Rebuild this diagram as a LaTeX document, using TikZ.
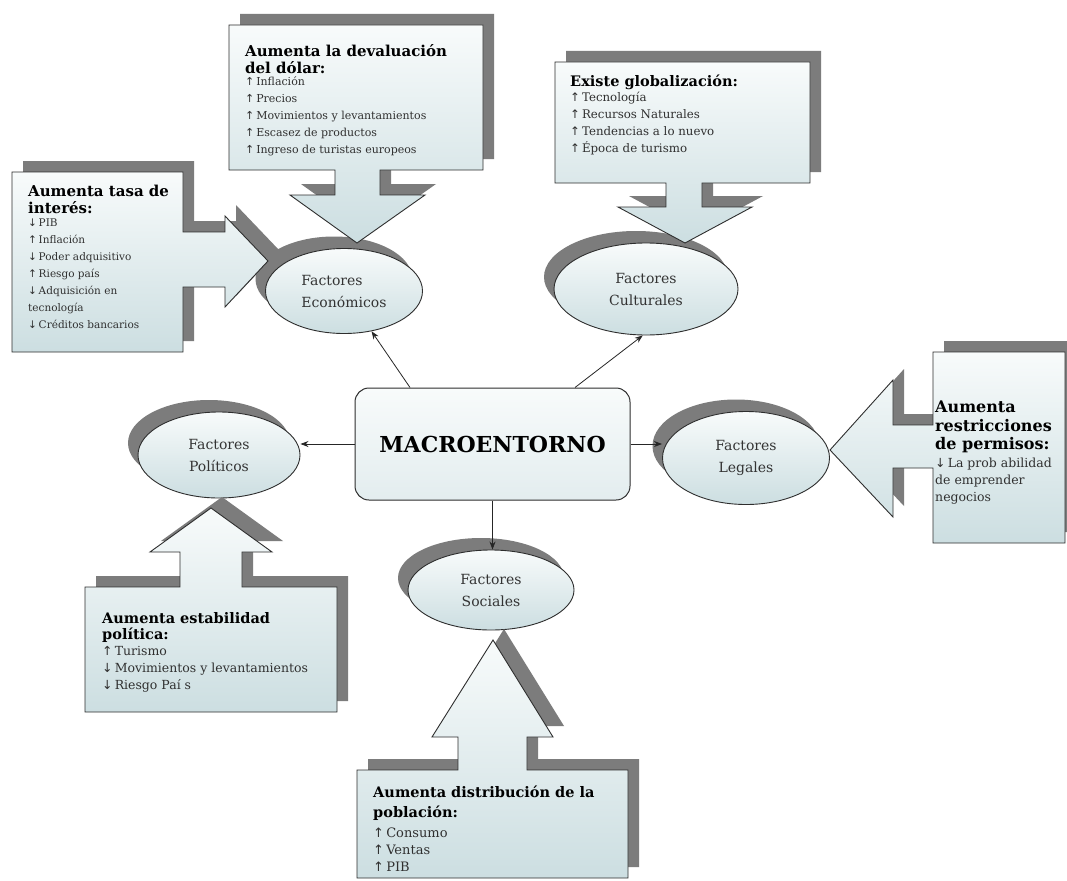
\documentclass[tikz,border=0pt]{standalone}
\usepackage{fontspec}
\setmainfont{DejaVu Serif}
\newfontfamily\arrowfont{DejaVu Sans}
\usetikzlibrary{arrows.meta,shapes.geometric,shadows}

% small arrows used in the lists
\newcommand{\sube}{{\arrowfont ↑}\,}
\newcommand{\baja}{{\arrowfont ↓}\,}

\definecolor{fillLight}{HTML}{F8FBFB}
\definecolor{fillDark}{HTML}{CCDEE1}
\definecolor{shadowGray}{HTML}{7C7C7C}
\definecolor{edgeGray}{HTML}{2E2E2E}
\definecolor{itemGray}{HTML}{303030}

\tikzset{
  callout/.style={draw=edgeGray, line width=0.9pt, line join=miter,
    top color=fillLight, bottom color=fillDark},
  factor/.style={ellipse, draw=edgeGray, line width=0.9pt, inner sep=0pt,
    top color=fillLight, bottom color=fillDark, align=center, text=black!80,
    font=\fontsize{14}{22}\selectfont,
    drop shadow={shadow xshift=-10pt, shadow yshift=12pt, fill=shadowGray, opacity=1}},
  core/.style={rectangle, rounded corners=14pt, draw=edgeGray, line width=1pt,
    top color=fillLight, bottom color=fillDark!55!white,
    font=\bfseries\fontsize{22}{26}\selectfont},
  link/.style={draw=black!85, line width=0.8pt, -{Stealth[length=8pt,width=6pt]}},
  hdr/.style 2 args={anchor=north west, inner sep=0pt, align=left, text=black,
    font=\bfseries\fontsize{#1}{#2}\selectfont},
  items/.style={anchor=north west, inner sep=0pt, align=left, text=itemGray,
    font=\fontsize{#1}{17}\selectfont}
}

% a callout: grey offset copy first, then the outlined shape itself
\newcommand{\calloutshape}[1]{%
  \fill[shadowGray, shift={(11,-11)}] #1;
  \path[callout] #1;
}

\begin{document}
\begin{tikzpicture}[x=1pt,y=-1pt]
\useasboundingbox (0,0) rectangle (1067,880);
\fill[white] (0,0) rectangle (1067,880);

% the five groups of factors
\node[factor, minimum width=157pt, minimum height=85pt, align=left] (econ) at (344,291) {Factores\\Económicos};
\node[factor, minimum width=184pt, minimum height=92pt] (cult) at (646,289) {Factores\\Culturales};
\node[factor, minimum width=162pt, minimum height=86pt] (pol) at (219,455) {Factores\\Políticos};
\node[factor, minimum width=167pt, minimum height=93pt] (legal) at (746,458) {Factores\\Legales};
\node[factor, minimum width=166pt, minimum height=80pt] (soc) at (491,590) {Factores\\Sociales};

% central concept
\node[core, minimum width=275pt, minimum height=112pt] (macro) at (492.5,444) {MACROENTORNO};

% links from the centre to each group
\draw[link] ([xshift=-82.5pt]macro.north) -- (econ);
\draw[link] ([xshift=82.5pt]macro.north) -- (cult.-94);
\draw[link] (macro.west) -- (macro.west -| pol.east);
\draw[link] (macro.east) -- (macro.east -| legal.west);
\draw[link] (macro.south) -- (macro.south |- soc.north);

% callout: interest rate (points right)
\calloutshape{(12,172) -- (183,172) -- (183,232) -- (225,232) -- (225,216) -- (268,261)
  -- (225,307) -- (225,287) -- (183,287) -- (183,352) -- (12,352) -- cycle}
\node[hdr={15}{17}] (hInteres) at (28,185) {Aumenta tasa de\\interés:};
\node[items=10.5] (lInteres) at (28,219) {\baja PIB\\ \sube Inflación\\ \baja Poder adquisitivo\\
  \sube Riesgo país\\ \baja Adquisición en\\ tecnología\\ \baja Créditos bancarios};

% callout: devaluation (points down)
\calloutshape{(229,25) -- (483,25) -- (483,170) -- (380,170) -- (380,195) -- (425,195)
  -- (357,243) -- (290,195) -- (335,195) -- (335,170) -- (229,170) -- cycle}
\node[hdr={15}{17}] (hDeval) at (245,44) {Aumenta la devaluación\\del dólar:};
\node[items=11] (lDeval) at (245,77) {\sube Inflación\\ \sube Precios\\ \sube Movimientos y levantamientos\\
  \sube Escasez de productos\\ \sube Ingreso de turistas europeos};

% callout: globalisation (points down)
\calloutshape{(555,62) -- (810,62) -- (810,183) -- (702,183) -- (702,207) -- (752,207)
  -- (685,243) -- (618,207) -- (666,207) -- (666,183) -- (555,183) -- cycle}
\node[hdr={14.5}{17}] (hGlob) at (570,75) {Existe globalización:};
\node[items=11.8] (lGlob) at (570,92) {\sube Tecnología\\ \sube Recursos Naturales\\
  \sube Tendencias a lo nuevo\\ \sube Época de turismo};

% callout: permits (points left)
\calloutshape{(933,352) -- (1065,352) -- (1065,543) -- (933,543) -- (933,468) -- (893,468)
  -- (893,517) -- (830,450) -- (893,380) -- (893,425) -- (933,425) -- cycle}
\node[hdr={16}{18.5}] (hLegal) at (935,401) {Aumenta\\restricciones\\de permisos:};
\node[items=12.5] (lLegal) at (935,458) {\baja La prob abilidad\\ de emprender\\ negocios};

% callout: political stability (points up)
\calloutshape{(85,587) -- (180,587) -- (180,552) -- (150,552) -- (211,508) -- (272,552)
  -- (242,552) -- (242,587) -- (337,587) -- (337,712) -- (85,712) -- cycle}
\node[hdr={14.5}{16.5}] (hPol) at (102,612) {Aumenta estabilidad\\política:};
\node[items=12.5] (lPol) at (102,646) {\sube Turismo\\ \baja Movimientos y levantamientos\\ \baja Riesgo Paí s};

% callout: population (points up)
\calloutshape{(357,770) -- (458,770) -- (458,737) -- (432,737) -- (493,640) -- (553,737)
  -- (527,737) -- (527,770) -- (628,770) -- (628,878) -- (357,878) -- cycle}
\node[hdr={14.5}{20}] (hPobl) at (373,786) {Aumenta distribución de la\\población:};
\node[items=13] (lPobl) at (373,828) {\sube Consumo\\ \sube Ventas\\ \sube PIB};
\end{tikzpicture}
\end{document}
